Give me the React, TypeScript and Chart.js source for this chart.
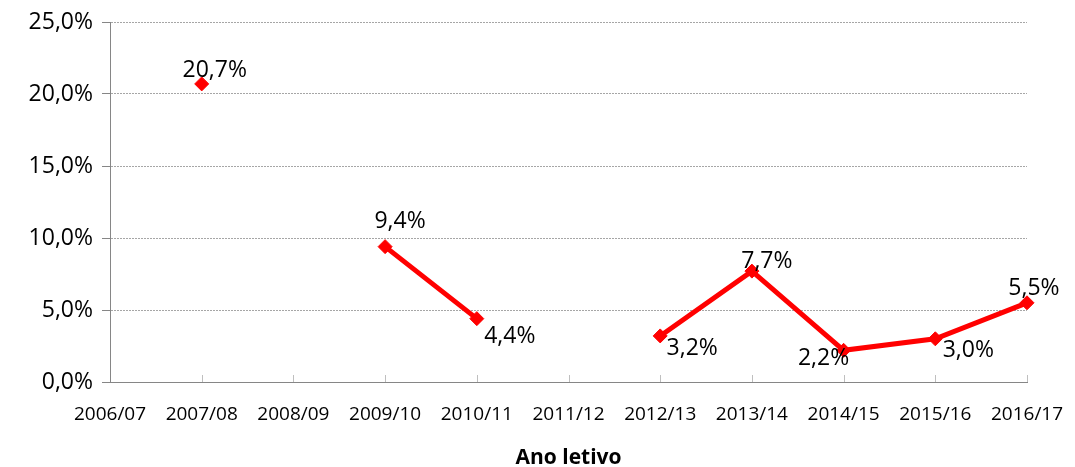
import React, { useEffect, useRef } from "react";
import { Chart, registerables } from "chart.js";

Chart.register(...registerables);

const categories = [
  "2006/07", "2007/08", "2008/09", "2009/10", "2010/11", "2011/12",
  "2012/13", "2013/14", "2014/15", "2015/16", "2016/17",
];
const values: (number | null)[] = [null, 20.7, null, 9.4, 4.4, null, 3.2, 7.7, 2.2, 3.0, 5.5];
const yTicks = [0, 5, 10, 15, 20, 25];

const fmt = (v: number) => v.toFixed(1).replace(".", ",") + "%";

// label offsets (style only), keyed by category index
const labelOffsets: Record<number, [number, number]> = {
  1: [13, -13],
  3: [15, -25],
  4: [33, 18],
  6: [32, 13],
  7: [15, -10],
  8: [-20, 8],
  9: [33, 12],
  10: [7, -14],
};

const FONT = "'Open Sans', 'Noto Sans', sans-serif";

const labelsPlugin = {
  id: "valueLabels",
  afterDatasetsDraw(chart: any) {
    const ctx = chart.ctx;
    const meta = chart.getDatasetMeta(0);
    ctx.save();
    ctx.font = `23px ${FONT}`;
    ctx.fillStyle = "#000";
    ctx.textAlign = "center";
    ctx.textBaseline = "middle";
    meta.data.forEach((pt: any, i: number) => {
      const v = values[i];
      if (v === null || v === undefined) return;
      const off = labelOffsets[i] || [0, -15];
      ctx.fillText(fmt(v), pt.x + off[0], pt.y + off[1]);
    });
    ctx.restore();
  },
};

const innerTicksPlugin = {
  id: "innerTicks",
  beforeDatasetsDraw(chart: any) {
    const ctx = chart.ctx;
    const x = chart.scales.x;
    const bottom = chart.chartArea.bottom;
    ctx.save();
    ctx.strokeStyle = "#BFBFBF";
    ctx.lineWidth = 1;
    categories.forEach((_, i) => {
      if (i === 0) return;
      const px = Math.round(x.getPixelForValue(i)) + 0.5;
      ctx.beginPath();
      ctx.moveTo(px, bottom);
      ctx.lineTo(px, bottom - 7);
      ctx.stroke();
    });
    ctx.restore();
  },
};

export default function App() {
  const ref = useRef<HTMLCanvasElement | null>(null);
  useEffect(() => {
    document.body.style.margin = "0";
    if (!ref.current) return;
    const chart = new Chart(ref.current, {
      type: "line",
      data: {
        labels: categories,
        datasets: [
          {
            data: values,
            borderColor: "#FF0000",
            backgroundColor: "#FF0000",
            borderWidth: 5,
            pointStyle: "rectRot",
            pointRadius: 7,
            pointBorderWidth: 1,
            pointBackgroundColor: "#FF0000",
            pointBorderColor: "#FF0000",
            spanGaps: false,
            tension: 0,
          },
        ],
      },
      options: {
        responsive: false,
        animation: false,
        layout: { padding: { left: 0, top: 22, right: 48, bottom: 0 } },
        plugins: {
          legend: { display: false },
          tooltip: { enabled: false },
        },
        scales: {
          x: {
            type: "category",
            offset: false,
            grid: { display: false, drawTicks: false },
            border: { display: true, color: "#868686", width: 1 },
            ticks: {
              color: "#000",
              font: { family: FONT, size: 19 },
              padding: 21,
              maxRotation: 0,
              autoSkip: false,
            },
            title: {
              display: true,
              text: "Ano letivo",
              color: "#000",
              font: { family: FONT, size: 21, weight: "bold" },
              padding: { top: 0, bottom: -4 },
            },
            afterFit(scale: any) {
              scale.height = 85;
              scale.paddingLeft = 0;
              scale.paddingRight = 0;
            },
          },
          y: {
            min: 0,
            max: 25,
            afterBuildTicks(scale: any) {
              scale.ticks = yTicks.map((v) => ({ value: v }));
            },
            grid: {
              color: "#A6A6A6",
              tickColor: "#868686",
              tickLength: 8,
              drawTicks: true,
            },
            border: { display: true, color: "#868686", width: 1, dash: [2, 1] },
            ticks: {
              color: "#000",
              font: { family: FONT, size: 23 },
              padding: 9,
              callback: (v: any) => fmt(Number(v)),
            },
            afterFit(scale: any) {
              scale.width = 110;
              scale.paddingTop = 0;
              scale.paddingBottom = 0;
            },
          },
        },
      },
      plugins: [innerTicksPlugin, labelsPlugin],
    });
    return () => chart.destroy();
  }, []);
  return (
    <div style={{ width: 1075, height: 467 }}>
      <canvas ref={ref} width={1075} height={467} />
    </div>
  );
}
